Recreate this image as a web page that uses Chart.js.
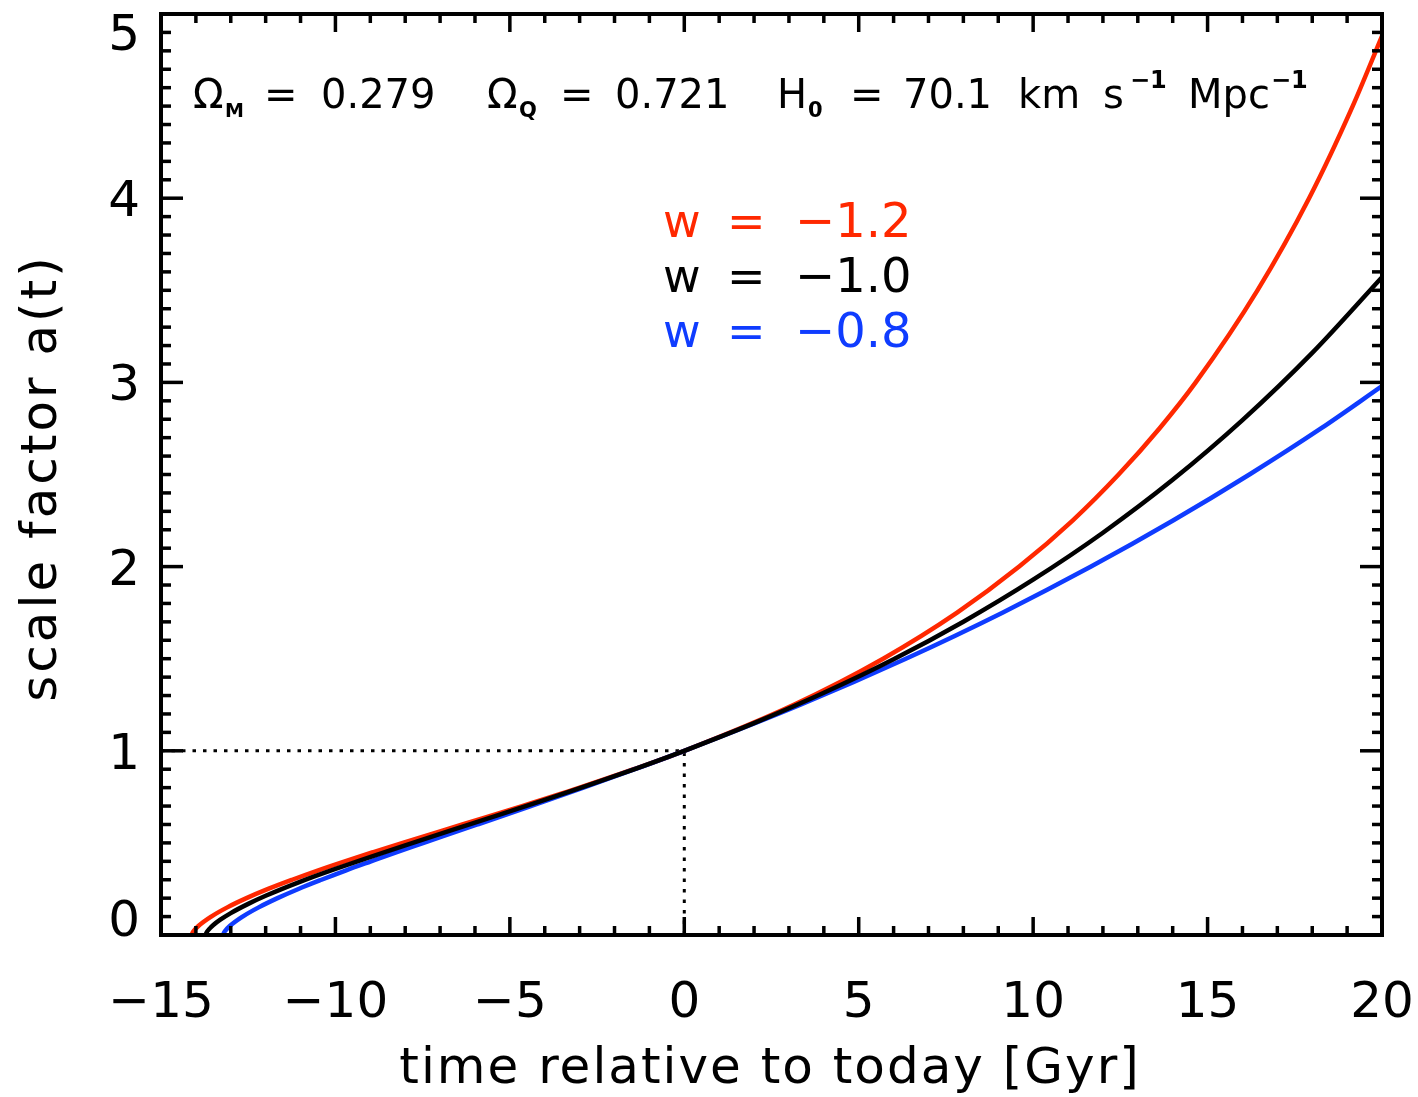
<!DOCTYPE html>
<html>
<head>
<meta charset="utf-8">
<script src="https://cdn.jsdelivr.net/npm/chart.js@4.4.1/dist/chart.umd.min.js"></script>
<style>
  html, body { margin: 0; padding: 0; background: #fff; }
  #wrap { width: 1418px; height: 1097px; }
</style>
</head>
<body>
<div id="wrap"><canvas id="scaleChart" width="1418" height="1097"></canvas></div>
<script>

/*  Data  */

// w = -1.0
const blackT = [-13.72, -13.70, -13.6, -13.5, -13.3, -13.0, -12.5, -12.0, -11.0, -10.0, -8.0, -6.0, -4.0, -2.0, 0, 2, 4, 6, 8, 10, 12, 14, 16, 18, 20];
const blackA = [0, 0.011, 0.036, 0.054, 0.083, 0.119, 0.169, 0.213, 0.290, 0.359, 0.487, 0.610, 0.733, 0.862, 1.000, 1.150, 1.315, 1.497, 1.701, 1.929, 2.184, 2.471, 2.795, 3.160, 3.571];

// w = -1.2
const redT = [-14.12, -14.10, -14.07, -13.92, -13.56, -13.10, -12.55, -11.93, -11.24, -10.51, -9.73, -8.91, -8.07, -6.36, -4.65, -3.00, -1.45, 0, 3.14, 5.70, 7.82, 9.60, 11.13, 12.45, 13.62, 14.66, 16.43, 17.91, 19.16, 20];
const redA = [0, 0.01, 0.02, 0.05, 0.10, 0.15, 0.20, 0.25, 0.30, 0.35, 0.40, 0.45, 0.50, 0.60, 0.70, 0.80, 0.90, 1.00, 1.25, 1.50, 1.75, 2.00, 2.25, 2.50, 2.75, 3.00, 3.50, 4.00, 4.50, 4.88];

// w = -0.8
const blueT = [-13.22, -13.20, -13.17, -13.02, -12.66, -12.20, -11.66, -11.06, -10.40, -9.71, -8.98, -8.24, -7.47, -5.93, -4.40, -2.89, -1.42, 0, 3.33, 6.35, 9.12, 11.66, 14.01, 16.20, 18.25, 20];
const blueA = [0, 0.01, 0.02, 0.05, 0.10, 0.15, 0.20, 0.25, 0.30, 0.35, 0.40, 0.45, 0.50, 0.60, 0.70, 0.80, 0.90, 1.00, 1.25, 1.50, 1.75, 2.00, 2.25, 2.50, 2.75, 2.98];

// dotted guide through today (t = 0, a = 1)
const guideT = [-15, 0, 0];
const guideA = [1, 1, 0];

// axes
const xTicks = [-15, -10, -5, 0, 5, 10, 15, 20];
const yTicks = [0, 1, 2, 3, 4, 5];

const RED = "#ff2800";
const BLUE = "#0f3cff";
const FONT = "'DejaVu Sans', sans-serif";

function pts(xs, ys) { return xs.map((v, i) => ({ x: v, y: ys[i] })); }


/*  Frame, ticks and texts  */

function seg(ctx, x1, y1, x2, y2) {
    ctx.beginPath(); ctx.moveTo(x1, y1); ctx.lineTo(x2, y2); ctx.stroke();
}

function put(ctx, txt, x, y, size, color, bold) {
    ctx.font = (bold ? "bold " : "") + size + "px " + FONT;
    ctx.fillStyle = color || "#000";
    ctx.fillText(txt, x, y);
}

const framePlugin = {
    id: "frame",
    afterDatasetsDraw(chart) {
        const { ctx, chartArea: a, scales: { x, y } } = chart;
        ctx.save();
        ctx.strokeStyle = "#000";
        ctx.lineWidth = 3.5;
        ctx.lineCap = "butt";

        // ticks on all four sides, pointing inwards
        for (let v = x.min; v <= x.max; v++) {
            const px = x.getPixelForValue(v);
            const len = v % 5 === 0 ? 18 : 9;
            seg(ctx, px, a.bottom, px, a.bottom - len);
            seg(ctx, px, a.top, px, a.top + len);
        }
        for (let i = 0; i <= 50; i++) {
            const py = y.getPixelForValue(i / 10);
            const len = i % 10 === 0 ? 22 : 10;
            seg(ctx, a.left, py, a.left + len, py);
            seg(ctx, a.right, py, a.right - len, py);
        }

        ctx.lineWidth = 4;
        ctx.strokeRect(a.left, a.top, a.right - a.left, a.bottom - a.top);

        // tick labels
        ctx.textBaseline = "alphabetic";
        ctx.textAlign = "center";
        xTicks.forEach(v => {
            put(ctx, String(v).replace("-", "\u2212"), x.getPixelForValue(v), a.bottom + 82, 50);
        });
        ctx.textAlign = "right";
        yTicks.forEach(v => {
            let py = y.getPixelForValue(v) + 18;
            if (v === y.min) py = a.bottom + 1;
            if (v === y.max) py = a.top + 36;
            put(ctx, String(v), a.left - 21, py, 50);
        });

        // axis titles
        ctx.letterSpacing = "2px";
        ctx.textAlign = "center";
        put(ctx, "time relative to today [Gyr]", 770, 1083, 50);
        ctx.save();
        ctx.translate(56, 478);
        ctx.rotate(-Math.PI / 2);
        ctx.letterSpacing = "3px";
        put(ctx, "scale factor a(t)", 0, 0, 50);
        ctx.restore();
        ctx.letterSpacing = "0px";

        // cosmological parameters
        ctx.textAlign = "left";
        put(ctx, "\u03A9", 193, 108, 40);
        put(ctx, "M", 225, 117, 19, null, true);
        put(ctx, "=", 264, 108, 40);
        put(ctx, "0.279", 321, 108, 40);
        put(ctx, "\u03A9", 487, 108, 40);
        put(ctx, "Q", 519, 117, 21, null, true);
        put(ctx, "=", 560, 108, 40);
        put(ctx, "0.721", 615, 108, 40);
        put(ctx, "H", 777, 108, 40);
        put(ctx, "0", 808, 117, 21, null, true);
        put(ctx, "=", 850, 108, 40);
        put(ctx, "70.1", 903, 108, 40);
        put(ctx, "km", 1018, 108, 40);
        put(ctx, "s", 1103, 108, 40);
        put(ctx, "\u22121", 1130, 88, 24, null, true);
        put(ctx, "Mpc", 1188, 108, 40);
        put(ctx, "\u22121", 1271, 88, 24, null, true);

        // legend
        [["\u22121.2", RED, 237], ["\u22121.0", "#000", 292], ["\u22120.8", BLUE, 347]].forEach(([lab, col, by]) => {
            put(ctx, "w", 663, by, 46, col);
            put(ctx, "=", 727, by, 46, col);
            put(ctx, lab, 795, by, 48, col);
        });

        ctx.restore();
    }
};


/*  Graphique  */

function lineSet(data, color) {
    return {
        data,
        borderColor: color,
        borderWidth: 4.5,
        pointRadius: 0,
        fill: false,
        cubicInterpolationMode: "monotone"
    };
}

new Chart(document.getElementById("scaleChart").getContext("2d"), {
    type: "line",
    data: {
        datasets: [
            lineSet(pts(blackT, blackA), "#000"),
            lineSet(pts(blueT, blueA), BLUE),
            lineSet(pts(redT, redA), RED),
            {
                data: pts(guideT, guideA),
                borderColor: "#000",
                borderWidth: 3,
                borderDash: [3.5, 7],
                pointRadius: 0,
                tension: 0
            }
        ]
    },
    options: {
        responsive: false,
        animation: false,
        layout: { padding: { left: 161, top: 14, right: 36, bottom: 162 } },
        plugins: { legend: { display: false }, tooltip: { enabled: false } },
        scales: {
            x: { type: "linear", min: -15, max: 20, display: false },
            y: { type: "linear", min: 0, max: 5, display: false }
        }
    },
    plugins: [framePlugin]
});
</script>
</body>
</html>
